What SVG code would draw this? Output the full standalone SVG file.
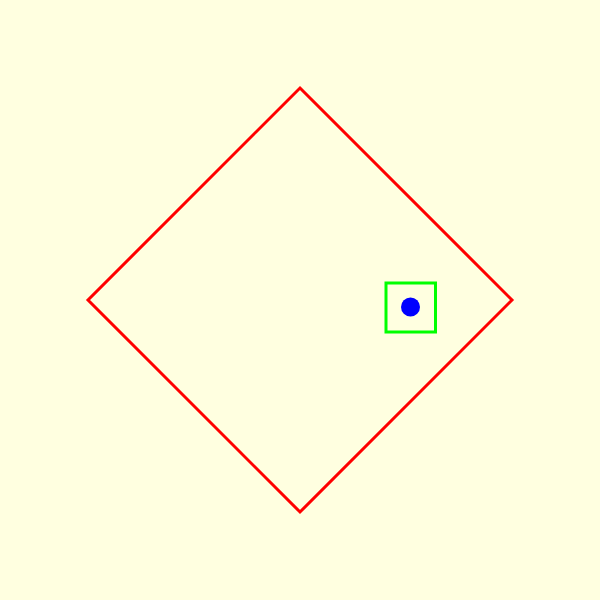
<svg xmlns="http://www.w3.org/2000/svg" width="600" height="600" viewBox="0 0 600 600">
<style>
.bg{fill:#ffffe0}
.diamond{fill:none;stroke:#ff0000;stroke-width:3}
.box{fill:none;stroke:#00ff00;stroke-width:3}
.dot{fill:#0000ff}
</style>
<rect class="bg" x="0" y="0" width="600" height="600"/>
<g id="diamond"><polygon class="diamond" points="300,88 512,300 300,512 88,300"/></g>
<g id="box"><rect class="box" x="386" y="283" width="49.5" height="49"/></g>
<g id="dot"><circle class="dot" cx="410.5" cy="307" r="9.5"/></g>
<g id="connectors"></g>
</svg>
